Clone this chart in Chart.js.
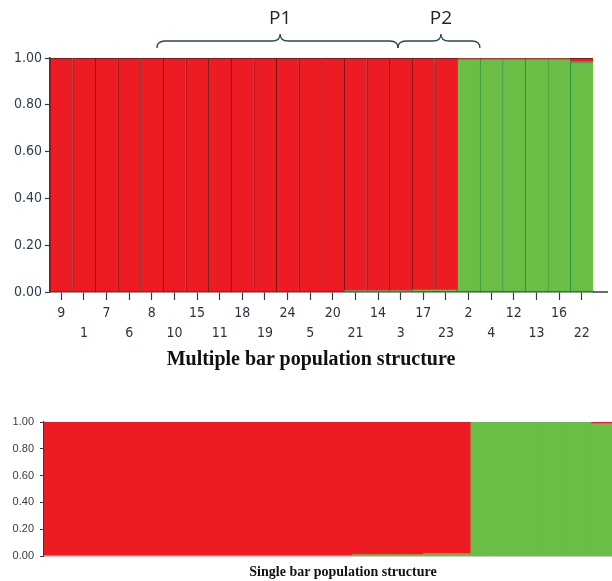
<!DOCTYPE html>
<html>
<head>
<meta charset="utf-8">
<script src="https://cdn.jsdelivr.net/npm/chart.js@4.4.1/dist/chart.umd.min.js"></script>
<style>
  html, body { margin: 0; padding: 0; background: #ffffff; width: 612px; height: 581px; overflow: hidden; }
  #wrap { position: relative; width: 612px; height: 581px; overflow: hidden; }
  canvas { position: absolute; }
  #c1 { left: 0; top: 0; }
  #c2 { left: 0; top: 400px; }
  .title { position: absolute; font-family: "Liberation Serif", "Times New Roman", serif; font-weight: bold; color: #111; white-space: nowrap; transform: translate(-50%, -50%); }
  #t1 { left: 311px; top: 358px; font-size: 20px; }
  #t2 { left: 343px; top: 572px; font-size: 14px; }
</style>
</head>
<body>
<div id="wrap">
  <canvas id="c1" width="612" height="350"></canvas>
  <div class="title" id="t1">Multiple bar population structure</div>
  <canvas id="c2" width="620" height="170"></canvas>
  <div class="title" id="t2">Single bar population structure</div>
</div>
<script>
// ---- data ----
const sampleIds = ['9','1','7','6','8','10','15','11','18','19','24','5','20','21','14','3','17','23','2','4','12','13','16','22'];
const clusterRed   = [1,1,1,1,1,1,1,1,1,1,1,1,1,0.994,0.994,0.994,0.987,0.987,0.004,0.004,0.004,0.004,0.004,0.016];
const clusterGreen = [0,0,0,0,0,0,0,0,0,0,0,0,0,0.006,0.006,0.006,0.013,0.013,0.996,0.996,0.996,0.996,0.996,0.984];
const yTickValues  = [0, 0.2, 0.4, 0.6, 0.8, 1.0];
const groupLabels  = ['P1', 'P2'];
const groupStart   = [4.23, 14.88];
const groupPeak    = [9.67, 16.78];
const groupEnd     = [14.88, 18.5];

// ---- styles ----
const RED = '#ED1C24', GREEN = '#6ABD45';
const AXIS = '#2c3e4c';
const NARROW = '"Liberation Sans Narrow", "Arial Narrow", "DejaVu Sans Condensed", "DejaVu Sans", sans-serif';
Chart.defaults.animation = false;
Chart.defaults.plugins.legend.display = false;
Chart.defaults.plugins.tooltip.enabled = false;

// two-row alternating labels for the multiple-bar chart
const twoRowLabels = sampleIds.map((s, i) => i % 2 === 0 ? [s, ''] : ['', s]);

const bracePlugin = {
  id: 'braces',
  afterDraw(chart) {
    const ctx = chart.ctx, xs = chart.scales.x;
    const yTip = 34, yLine = 41, yEnd = 48;
    ctx.save();
    ctx.strokeStyle = '#2f4656';
    ctx.lineWidth = 1.3;
    for (let i = 0; i < groupLabels.length; i++) {
      const x1 = xs.getPixelForValue(groupStart[i]);
      const xp = xs.getPixelForValue(groupPeak[i]);
      const x2 = xs.getPixelForValue(groupEnd[i]);
      const r = 8;
      ctx.beginPath();
      ctx.moveTo(x1, yEnd);
      ctx.quadraticCurveTo(x1, yLine, x1 + r, yLine);
      ctx.lineTo(xp - r, yLine);
      ctx.quadraticCurveTo(xp, yLine, xp, yTip);
      ctx.quadraticCurveTo(xp, yLine, xp + r, yLine);
      ctx.lineTo(x2 - r, yLine);
      ctx.quadraticCurveTo(x2, yLine, x2, yEnd);
      ctx.stroke();
      ctx.fillStyle = '#222';
      ctx.font = '19px "Open Sans", "DejaVu Sans", sans-serif';
      ctx.textAlign = 'center';
      ctx.textBaseline = 'middle';
      ctx.fillText(groupLabels[i], xp, 19);
    }
    // x axis line continues past the last bar
    ctx.strokeStyle = AXIS;
    ctx.lineWidth = 1.5;
    ctx.beginPath();
    ctx.moveTo(chart.chartArea.right, chart.chartArea.bottom);
    ctx.lineTo(608, chart.chartArea.bottom);
    ctx.stroke();
    ctx.restore();
  }
};

new Chart(document.getElementById('c1'), {
  type: 'bar',
  data: {
    labels: twoRowLabels,
    datasets: [
      { data: clusterGreen, backgroundColor: GREEN, borderColor: '#1c8a3a', borderWidth: {top: 1, left: 1, right: 0, bottom: 0}, borderSkipped: false },
      { data: clusterRed, backgroundColor: RED, borderColor: '#6e1214', borderWidth: {top: 1, left: 1, right: 0, bottom: 0}, borderSkipped: false }
    ]
  },
  options: {
    responsive: false,
    devicePixelRatio: 1,
    layout: { padding: { top: 58, right: 19, left: 0, bottom: 0 } },
    datasets: { bar: { barPercentage: 1, categoryPercentage: 1 } },
    scales: {
      x: {
        stacked: true,
        grid: { display: true, drawOnChartArea: false, offset: false, tickLength: 8, color: AXIS, tickWidth: 1.2 },
        border: { display: true, color: AXIS, width: 1.5 },
        ticks: { color: '#2a3440', padding: 3, autoSkip: false, maxRotation: 0,
                 font: { family: NARROW, weight: 'condensed', size: 14, lineHeight: 1.43 } },
        afterFit(s) { s.height = 58; }
      },
      y: {
        stacked: true,
        min: 0, max: 1,
        afterBuildTicks(s) { s.ticks = yTickValues.map(v => ({ value: v })); },
        grid: { display: true, drawOnChartArea: false, tickLength: 5, color: AXIS, tickWidth: 1.2 },
        border: { display: true, color: AXIS, width: 1.5 },
        ticks: { color: AXIS, padding: 3, callback: v => Number(v).toFixed(2),
                 font: { family: NARROW, weight: 'condensed', size: 14 } },
        afterFit(s) { s.width = 50; }
      }
    }
  },
  plugins: [bracePlugin]
});

new Chart(document.getElementById('c2'), {
  type: 'bar',
  data: {
    labels: sampleIds,
    datasets: [
      { data: clusterGreen, backgroundColor: GREEN, borderWidth: 0, inflateAmount: 1 },
      { data: clusterRed, backgroundColor: RED, borderWidth: 0, inflateAmount: 1 }
    ]
  },
  options: {
    responsive: false,
    devicePixelRatio: 1,
    layout: { padding: { top: 22, right: 6, left: 0, bottom: 0 } },
    datasets: { bar: { barPercentage: 1, categoryPercentage: 1 } },
    scales: {
      x: {
        stacked: true,
        grid: { display: false },
        border: { display: true, color: '#3a3a3a', width: 1.2 },
        ticks: { display: false },
        afterFit(s) { s.height = 14; }
      },
      y: {
        stacked: true,
        min: 0, max: 1,
        afterBuildTicks(s) { s.ticks = yTickValues.map(v => ({ value: v })); },
        grid: { display: true, drawOnChartArea: false, tickLength: 4, color: '#3a3a3a' },
        border: { display: true, color: '#3a3a3a', width: 1.2 },
        ticks: { color: '#3a3a3a', padding: 6, callback: v => Number(v).toFixed(2),
                 font: { family: '"Liberation Sans", Arial, sans-serif', size: 11 } },
        afterFit(s) { s.width = 44; }
      }
    }
  }
});
</script>
</body>
</html>
